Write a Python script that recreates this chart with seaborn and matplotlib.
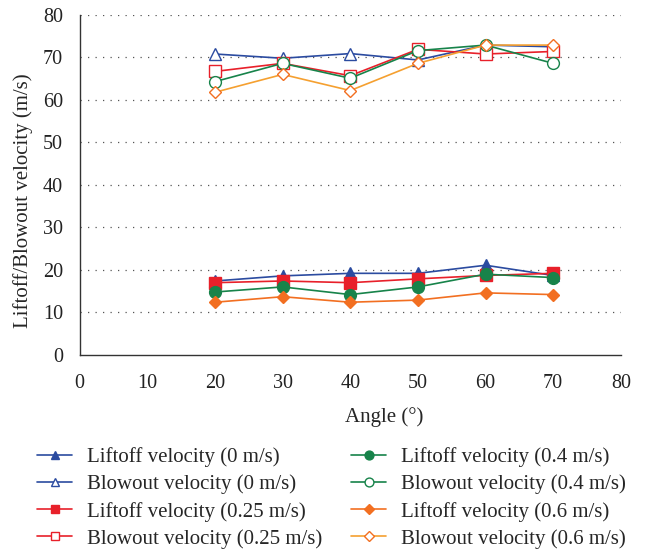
import matplotlib
matplotlib.use("Agg")
import matplotlib.pyplot as plt
import seaborn as sns
import numpy as np

angles = [20, 30, 40, 50, 60, 70]

liftoff_0 = [17.4, 18.6, 19.2, 19.2, 21.1, 18.7]
blowout_0 = [70.8, 69.8, 70.9, 69.4, 72.9, 72.5]
liftoff_025 = [17.0, 17.4, 17.0, 17.9, 18.7, 19.2]
blowout_025 = [66.7, 68.6, 65.7, 71.9, 70.8, 71.4]
liftoff_04 = [14.8, 16.0, 14.2, 16.0, 19.0, 18.2]
blowout_04 = [64.3, 68.6, 65.1, 71.6, 72.9, 68.6]
liftoff_06 = [12.4, 13.7, 12.4, 12.9, 14.6, 14.2]
blowout_06 = [61.8, 66.0, 62.2, 68.6, 72.9, 72.9]

labels = [
    "Liftoff velocity (0 m/s)", "Blowout velocity (0 m/s)",
    "Liftoff velocity (0.25 m/s)", "Blowout velocity (0.25 m/s)",
    "Liftoff velocity (0.4 m/s)", "Blowout velocity (0.4 m/s)",
    "Liftoff velocity (0.6 m/s)", "Blowout velocity (0.6 m/s)",
]
series = [liftoff_0, blowout_0, liftoff_025, blowout_025,
          liftoff_04, blowout_04, liftoff_06, blowout_06]

blue = "#2B4BA0"
red = "#E8202A"
green = "#17834A"
orange = "#F26F21"
orange_line = "#F5A030"

styles = [
    dict(color=blue, marker="^", mfc=blue, lc=blue),
    dict(color=blue, marker="^", mfc="white", lc=blue),
    dict(color=red, marker="s", mfc=red, lc=red),
    dict(color=red, marker="s", mfc="white", lc=red),
    dict(color=green, marker="o", mfc=green, lc=green),
    dict(color=green, marker="o", mfc="white", lc=green),
    dict(color=orange, marker="D", mfc=orange, lc=orange),
    dict(color=orange, marker="D", mfc="white", lc=orange_line),
]

sns.set_style("white")
plt.rcParams["font.family"] = ["Liberation Serif", "DejaVu Serif"]

fig = plt.figure(figsize=(6.48, 5.52), dpi=100)
ax = fig.add_axes([0.123, 0.357, 0.835, 0.616])

for vals, lab, st in zip(series, labels, styles):
    ms = 6.5 if st["marker"] == "D" else 8.5
    sns.lineplot(x=angles, y=vals, ax=ax, color=st["lc"], marker=st["marker"],
                 markersize=ms, markerfacecolor=st["mfc"],
                 markeredgecolor=st["color"], markeredgewidth=1.0,
                 linewidth=1.2, label=lab, legend=False)

lines = ax.get_lines()
ax.set_xlim(0, 80)
ax.set_ylim(0, 80)
ax.set_xticks(np.arange(0, 81, 10))
ax.set_yticks(np.arange(0, 81, 10))
for y in range(10, 81, 10):
    ax.axhline(y, color="#555555", linestyle=(0, (1, 5)), linewidth=0.9, zorder=0)

for s in ["top", "right"]:
    ax.spines[s].set_visible(False)
for s in ["left", "bottom"]:
    ax.spines[s].set_color("#333333")
    ax.spines[s].set_linewidth(1.0)
ax.tick_params(axis="both", direction="out", length=4, width=0.8,
               colors="#333333", labelsize=14.5, labelcolor="#222222")
ax.tick_params(axis="x", pad=10)
ax.tick_params(axis="y", pad=8)
ax.set_xlabel("Angle (°)", fontsize=15)
ax.set_ylabel("Liftoff/Blowout velocity (m/s)", fontsize=15)
ax.xaxis.set_label_coords(0.562, -0.153)
ax.yaxis.set_label_coords(-0.087, 0.453)

common = dict(loc="upper left", frameon=False, fontsize=15, handlelength=1.7,
              handletextpad=0.72, labelspacing=0.36, borderpad=0,
              borderaxespad=0, markerscale=0.75)
leg1 = fig.legend(handles=lines[0:4], labels=labels[0:4],
                  bbox_to_anchor=(37 / 648, 1 - 447 / 552), **common)
leg2 = fig.legend(handles=lines[4:8], labels=labels[4:8],
                  bbox_to_anchor=(351 / 648, 1 - 447 / 552), **common)

fig.savefig("out.png", dpi=100)
